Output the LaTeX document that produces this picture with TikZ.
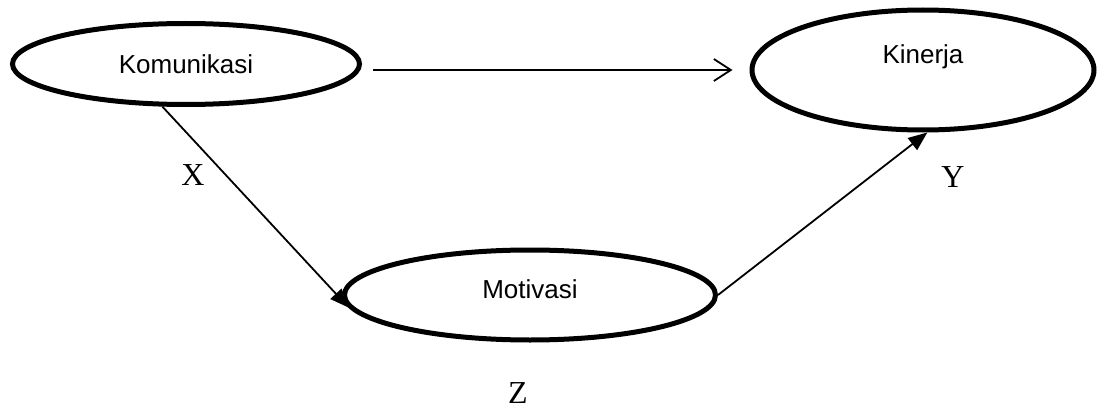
\documentclass[tikz,border=0pt]{standalone}
\usepackage{fontspec}
\setmainfont{Liberation Serif}
\newfontfamily\ovalfont{Liberation Sans}
\usetikzlibrary{shapes.geometric,arrows.meta}
\tikzset{
  oval/.style={ellipse, draw=black, line width=5pt, inner sep=0pt, fill=white},
  ovaltxt/.style={font=\ovalfont\fontsize{26}{30}\selectfont, inner sep=0pt},
  letter/.style={font=\fontsize{32}{36}\selectfont, inner sep=0pt},
  conn/.style={draw=black, line width=1.8pt, -{Triangle[length=19pt,width=15pt]}},
  openconn/.style={draw=black, line width=2pt, -{Straight Barb[length=17pt,width=22pt,line width=1.8pt]}}
}
\begin{document}
\begin{tikzpicture}[x=1pt,y=-1pt]
\useasboundingbox (0,0) rectangle (1101,412);
\node[oval, minimum width=347pt, minimum height=81pt,
      label={[ovaltxt]center:Komunikasi}] (kom) at (186,64) {};
\node[oval, minimum width=342pt, minimum height=120pt,
      label={[ovaltxt,yshift=13pt]center:Kinerja}] (kin) at (923,70) {};
\node[oval, minimum width=371pt, minimum height=90pt,
      label={[ovaltxt,yshift=6pt]center:Motivasi}] (mot) at (530,295) {};
\node[letter] (lx) at (193,175) {X};
\node[letter] (ly) at (953,177) {Y};
\node[letter] (lz) at (518,393) {Z};
\draw[openconn, shorten <=11pt, shorten >=17pt] (kom.east |- kin.west) -- (kin.west);
\draw[conn] (kom.241) -- (mot.184.6);
\draw[conn] (mot.east) -- (kin.274.4);
\end{tikzpicture}
\end{document}
